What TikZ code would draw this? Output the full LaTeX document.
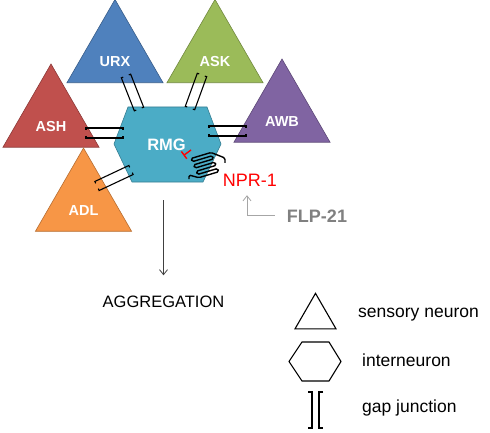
\documentclass[tikz,border=0pt]{standalone}
\usepackage{fontspec}
\setmainfont{Liberation Sans}
\usetikzlibrary{shapes.geometric,calc,arrows.meta}
\definecolor{urxblue}{HTML}{4F81BD}
\definecolor{urxedge}{HTML}{385D8A}
\definecolor{askgreen}{HTML}{9BBB59}
\definecolor{askedge}{HTML}{71893F}
\definecolor{ashred}{HTML}{C0504D}
\definecolor{ashedge}{HTML}{8C3836}
\definecolor{awbpurple}{HTML}{8064A2}
\definecolor{awbedge}{HTML}{5C4776}
\definecolor{adlorange}{HTML}{F79646}
\definecolor{adledge}{HTML}{B66D31}
\definecolor{rmgteal}{HTML}{4BACC6}
\definecolor{rmgedge}{HTML}{357D91}
\newcommand\gapj[2]{%
  \draw[gapline] ($(#1)!3pt!90:(#2)$) -- ($(#1)!5pt!90:(#2)$) -- ($(#2)!5pt!-90:(#1)$) -- ($(#2)!3pt!-90:(#1)$);
  \draw[gapline] ($(#1)!3pt!-90:(#2)$) -- ($(#1)!5pt!-90:(#2)$) -- ($(#2)!5pt!90:(#1)$) -- ($(#2)!3pt!90:(#1)$);}
\begin{document}
\begin{tikzpicture}[x=1pt,y=-1pt,
        tri/.style={regular polygon,regular polygon sides=3,minimum size=111pt,inner sep=0pt,line width=0.6pt},
        nlab/.style={text=white,inner sep=0pt,font=\bfseries\fontsize{14.5}{14.5}\selectfont,yshift=-7pt},
        gapline/.style={line width=1.1pt},
        coil/.style={line width=1.4pt,rounded corners=1.5pt},
        inhib/.style={red,line width=1.4pt,-{Bar[width=9pt]}},
        flow/.style={draw=black!75,line width=0.8pt,-{Straight Barb[length=5pt,width=8pt]}},
        flparrow/.style={draw=black!35,line width=0.8pt,-{Straight Barb[length=5pt,width=8pt]}},
        leg/.style={anchor=base west,inner sep=0pt,font=\fontsize{17.5}{17.5}\selectfont}]
    \useasboundingbox (0,0) rectangle (490,433);
    % sensory neurons
    \node[tri,fill=urxblue,draw=urxedge,label={[nlab]center:URX}] (URX) at (115,55) {};
    \node[tri,fill=askgreen,draw=askedge,label={[nlab]center:ASK}] (ASK) at (215,55) {};
    \node[tri,fill=ashred,draw=ashedge,label={[nlab]center:ASH}] (ASH) at (51,119.5) {};
    \node[tri,fill=awbpurple,draw=awbedge,label={[nlab]center:AWB}] (AWB) at (282,114.5) {};
    \node[tri,fill=adlorange,draw=adledge,label={[nlab]center:ADL}] (ADL) at (83.5,203.5) {};
    % interneuron
    \draw[fill=rmgteal,draw=rmgedge,line width=0.6pt] (114,144) -- (128,107) -- (207,107) -- (221,144) -- (203,182) -- (132,182) -- cycle;
    \node[text=white,inner sep=0pt,anchor=base,font=\bfseries\fontsize{16.5}{16.5}\selectfont] (RMG) at (166.5,150) {RMG};
    % gap junctions
    \coordinate (urxg) at (126,76);   \coordinate (rmgu) at (139,109);
    \coordinate (askg) at (202,75);   \coordinate (rmgk) at (190,108);
    \coordinate (ashg) at (86,133);   \coordinate (rmgh) at (123,133);
    \coordinate (awbg) at (246,131);  \coordinate (rmgw) at (209,131);
    \coordinate (adlg) at (97,186);   \coordinate (rmgd) at (131,170);
    \gapj{urxg}{rmgu}
    \gapj{askg}{rmgk}
    \gapj{ashg}{rmgh}
    \gapj{awbg}{rmgw}
    \gapj{adlg}{rmgd}
    % receptor
    \draw[coil] (225,163) -- (225,158) \foreach \i in {0,2,4} {-- ({211+1.3*\i},{152.5+3.2*\i}) -- ({191+1.3*\i},{158.5+3.2*\i}) -- ({192.3+1.3*\i},{161.7+3.2*\i}) -- ({212.3+1.3*\i},{155.7+3.2*\i})} -- (218.8,171.7) -- (198.8,177.7) -- (189,175) -- (189,179);
    \coordinate (coiltop) at (191,150);
    \coordinate (block) at (183.5,155.5);
    \draw[inhib] (coiltop) -- (block);
    \node[red,inner sep=0pt,anchor=base,font=\fontsize{18}{18}\selectfont] (NPR) at (250,186) {NPR-1};
    \node[black!50,inner sep=0pt,anchor=base,font=\bfseries\fontsize{18}{18}\selectfont] (FLP) at (317,222) {FLP-21};
    \draw[flparrow] ([xshift=-12pt,yshift=7pt]FLP.south west) -| ([xshift=-3pt,yshift=-9pt]NPR.south);
    % output
    \node[inner sep=0pt,anchor=base,font=\fontsize{16.5}{16.5}\selectfont] (AGG) at (163.5,307) {AGGREGATION};
    \coordinate (out) at (163.5,200);
    \draw[flow] (out) -- ([yshift=20pt]AGG.north);
    % legend
    \node[tri,minimum size=47.3pt,draw,line width=1.1pt] (legtri) at (315.5,317) {};
    \draw[line width=1.1pt] (289,361.5) -- (302,342) -- (329,342) -- (341,361.5) -- (329,381) -- (302,381) -- cycle;
    \draw[gapline] (308,392) -- (312,392) -- (312,428) -- (308,428);
    \draw[gapline] (323,392) -- (319,392) -- (319,428) -- (323,428);
    \node[leg] (sens) at (358,317) {sensory neuron};
    \node[leg] (inter) at (362,366) {interneuron};
    \node[leg] (gapj) at (362,412) {gap junction};
\end{tikzpicture}
\end{document}
